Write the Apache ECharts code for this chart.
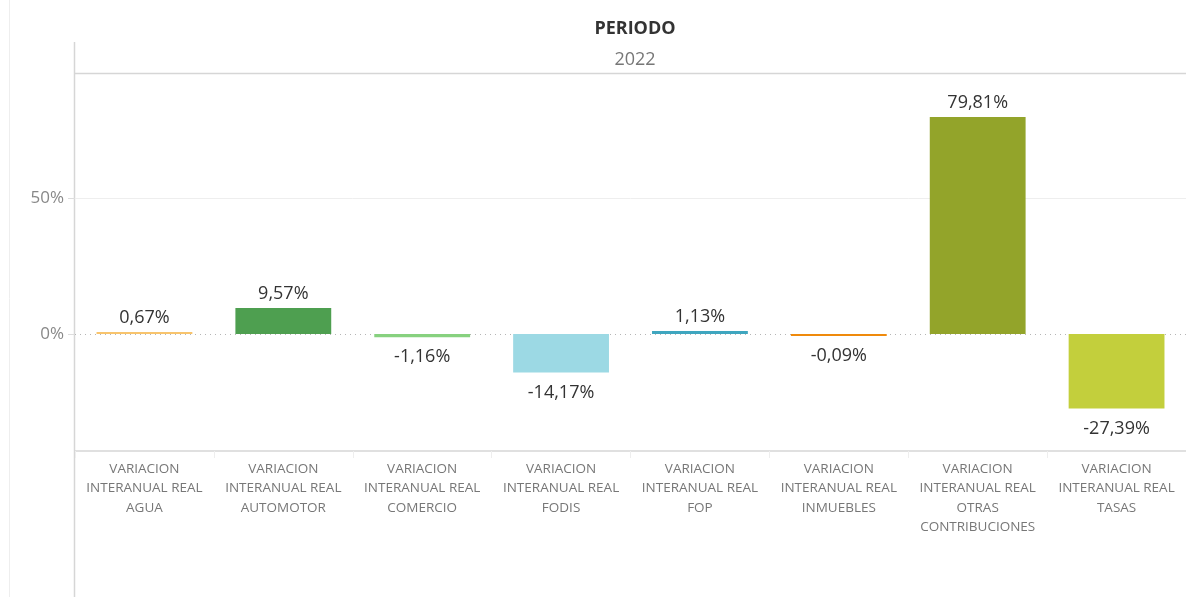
<!DOCTYPE html>
<html>
<head>
<meta charset="utf-8">
<script src="https://cdn.jsdelivr.net/npm/echarts@6/dist/echarts.min.js"></script>
<style>
  html, body { margin: 0; padding: 0; background: #fff; }
  #main { width: 1186px; height: 597px; }
</style>
</head>
<body>
<div id="main"></div>
<script>
(function () {
    'use strict';

    var categories = [
        'VARIACION INTERANUAL REAL AGUA',
        'VARIACION INTERANUAL REAL AUTOMOTOR',
        'VARIACION INTERANUAL REAL COMERCIO',
        'VARIACION INTERANUAL REAL FODIS',
        'VARIACION INTERANUAL REAL FOP',
        'VARIACION INTERANUAL REAL INMUEBLES',
        'VARIACION INTERANUAL REAL OTRAS CONTRIBUCIONES',
        'VARIACION INTERANUAL REAL TASAS'
    ];
    var values = [0.67, 9.57, -1.16, -14.17, 1.13, -0.09, 79.81, -27.39];
    var colors = ['#f8c46d', '#4e9f50', '#87d17f', '#9cd9e4', '#3fa6bf', '#ef8a0c', '#93a42a', '#c3cf3c'];
    var yTicks = [0, 50];

    var font = '"Open Sans", "Noto Sans", sans-serif';

    // parte las etiquetas en lineas de maximo 15 caracteres
    function wrap(text) {
        var words = text.split(' ');
        var lines = [];
        var cur = '';
        for (var w of words) {
            if (cur && (cur + ' ' + w).length > 15) {
                lines.push(cur);
                cur = w;
            } else {
                cur = cur ? cur + ' ' + w : w;
            }
        }
        lines.push(cur);
        return lines.join('\n');
    }

    function fmt(v) {
        return v.toFixed(2).replace('.', ',') + '%';
    }

    var data = values.map(function (v, i) {
        return {
            value: v,
            itemStyle: { color: colors[i] },
            label: {
                position: v < 0 ? 'bottom' : 'top',
                distance: v < 0 ? 11 : 5
            }
        };
    });

    var myChart = echarts.init(document.getElementById('main'));
    var option = {
        animation: false,
        textStyle: { fontFamily: font },
        title: [
            {
                text: 'PERIODO',
                left: 630, top: 15, textAlign: 'center',
                textStyle: { fontFamily: font, fontSize: 18, fontWeight: 'bold', color: '#333' }
            },
            {
                text: '2022',
                left: 630, top: 46, textAlign: 'center',
                textStyle: { fontFamily: font, fontSize: 18, fontWeight: 'normal', color: '#777' }
            }
        ],
        graphic: [
            { type: 'line', shape: { x1: 9.5, y1: 0, x2: 9.5, y2: 597 }, style: { stroke: '#eeeeee', lineWidth: 1 } },
            { type: 'line', shape: { x1: 74.5, y1: 42, x2: 74.5, y2: 597 }, style: { stroke: '#d6d6d6', lineWidth: 1.5 } },
            { type: 'line', shape: { x1: 74, y1: 73.5, x2: 1186, y2: 73.5 }, style: { stroke: '#d6d6d6', lineWidth: 1.5 } }
        ],
        grid: { left: 75, right: 0, top: 73, bottom: 146 },
        xAxis: {
            type: 'category',
            data: categories,
            axisLine: { onZero: false, lineStyle: { color: '#d6d6d6', width: 1.5 } },
            axisTick: { show: true, length: 7, lineStyle: { color: '#eeeeee' } },
            axisLabel: {
                interval: 0,
                margin: 8,
                fontFamily: font,
                fontSize: 13.5,
                lineHeight: 19.5,
                color: '#777',
                formatter: wrap
            }
        },
        yAxis: {
            type: 'value',
            min: -43,
            max: 96,
            axisLine: { show: false },
            splitLine: { show: false },
            axisTick: { show: true, customValues: yTicks, length: 7, lineStyle: { color: '#dddddd' } },
            axisLabel: {
                customValues: yTicks,
                margin: 11,
                fontFamily: font,
                fontSize: 17,
                color: '#888',
                formatter: function (v) { return v + '%'; }
            }
        },
        series: [
            {
                type: 'bar',
                z: 2,
                data: data,
                barWidth: '69%',
                barMinHeight: 2,
                label: {
                    show: true,
                    fontFamily: font,
                    fontSize: 18,
                    color: '#333',
                    formatter: function (p) { return fmt(p.value); }
                },
                // lineas de referencia por debajo de las barras
                markLine: {
                    z: 1,
                    silent: true,
                    symbol: 'none',
                    label: { show: false },
                    data: [
                        { yAxis: 50, lineStyle: { color: '#eeeeee', type: 'solid', width: 1 } },
                        { yAxis: 0, lineStyle: { color: '#b5b5b5', type: [1, 4], width: 1 } }
                    ]
                }
            }
        ]
    };
    myChart.setOption(option);
}());
</script>
</body>
</html>
